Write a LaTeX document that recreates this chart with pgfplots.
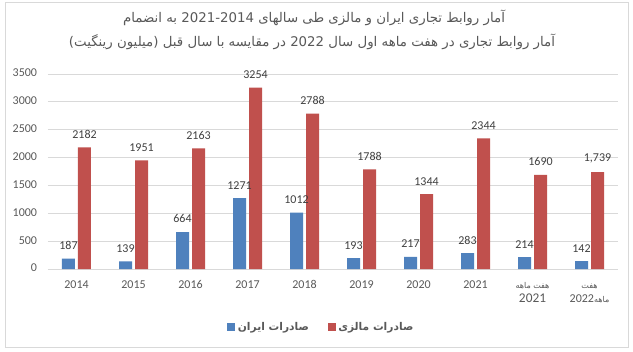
\documentclass[border=0pt]{standalone}
\usepackage{pgfplots}
\pgfplotsset{compat=1.18}
\usepackage{pgfplotstable}
\usepackage{fontspec}
\setmainfont{Carlito}
\newfontfamily\arabicfont[Script=Arabic]{DejaVu Sans}
\TeXXeTstate=1
\definecolor{iran}{HTML}{4F81BD}
\definecolor{mal}{HTML}{C0504D}
\definecolor{txt}{HTML}{595959}
\definecolor{gridc}{HTML}{D9D9D9}
\definecolor{lbl}{HTML}{404040}

\pgfplotstableread{
x ir irl my myl
0 187 187 2182 2182
1 139 139 1951 1951
2 664 664 2163 2163
3 1271 1271 3254 3254
4 1012 1012 2788 2788
5 193 193 1788 1788
6 217 217 1344 1344
7 283 283 2344 2344
8 214 214 1690 1690
9 142 142 1739 1,739
}\data

\begin{document}
\begin{tikzpicture}
\useasboundingbox (0,0) rectangle (474.75pt,263.25pt);
\fill[white] (0,0) rectangle (474.75pt,263.25pt);
\draw[gridc] (3.75pt,3pt) rectangle (471pt,261.75pt);
\node[font=\arabicfont\fontsize{10}{12}\selectfont, text=txt] at (235.5pt,249.75pt)
 {\beginR آمار روابط تجاری ایران و مالزی طی سالهای \beginL2021-2014\endL{} به انضمام\endR};
\node[font=\arabicfont\fontsize{10}{12}\selectfont, text=txt] at (234pt,231.75pt)
 {\beginR آمار روابط تجاری در هفت ماهه اول سال \beginL2022\endL{} در مقایسه با سال قبل (میلیون رینگیت)\endR};
\begin{axis}[
  at={(36pt,61.5pt)}, anchor=south west, scale only axis,
  width=427.5pt, height=146.25pt,
  ybar=2.25pt, bar width=9.75pt,
  xmin=-0.5, xmax=9.5, ymin=0, ymax=3500,
  ytick={0,500,...,3500},
  xtick={0,...,9},
  xticklabels={2014,2015,2016,2017,2018,2019,2020,2021,
    {{\arabicfont\fontsize{6}{7}\selectfont\beginR هفت ماهه\endR}\\{\fontsize{10}{11}\selectfont 2021}},
    {{\arabicfont\fontsize{6}{7}\selectfont هفت}\\2022{\arabicfont\fontsize{6}{7}\selectfont ماهه}}},
  xticklabel style={font=\fontsize{9}{11}\selectfont, text=txt, align=center, anchor=north, inner sep=0pt, yshift=-6.5pt},
  typeset ticklabels with strut,
  yticklabel style={font=\fontsize{9}{11}\selectfont, text=txt, anchor=east, inner sep=0pt, xshift=-8pt},
  /pgf/number format/assume math mode=true,
  /pgf/number format/1000 sep={},
  ymajorgrids, grid style={gridc, line width=0.75pt},
  axis line style={draw=none},
  major tick length=0pt,
  point meta=explicit symbolic,
  nodes near coords,
  nodes near coords style={font=\fontsize{9}{11}\selectfont, text=lbl, inner sep=0pt, anchor=south, yshift=6.5pt},
  legend style={at={(0.48,0)}, anchor=center, yshift=-43.5pt, draw=none, fill=none,
    legend columns=2, font=\arabicfont\bfseries\fontsize{8}{10}\selectfont, text=txt,
    /tikz/every even column/.append style={column sep=12pt}},
  legend image code/.code={\fill[#1] (0pt,-3pt) rectangle (6pt,3pt);},
]
\addplot[fill=iran, draw=none] table[x=x, y=ir, meta=irl] {\data};
\addlegendentry{\beginR صادرات ایران\endR}
\addplot[fill=mal, draw=none] table[x=x, y=my, meta=myl] {\data};
\addlegendentry{\beginR صادرات مالزی\endR}
\end{axis}
\end{tikzpicture}
\end{document}
